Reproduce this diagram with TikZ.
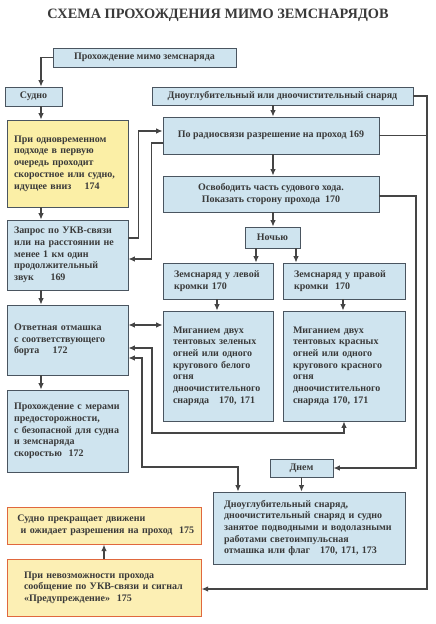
\documentclass[tikz,border=0pt]{standalone}
\usepackage{fontspec}
\setmainfont{Liberation Serif}
\usetikzlibrary{arrows.meta}
\definecolor{bfill}{HTML}{CFE4EF}
\definecolor{bline}{HTML}{4A5560}
\definecolor{yfill}{HTML}{FBEFA6}
\definecolor{ofill}{HTML}{FCEFB4}
\definecolor{oline}{HTML}{E0683E}
\definecolor{ink}{HTML}{3A3A3A}
\definecolor{wire}{HTML}{454545}
\tikzset{
  bx/.style={draw=bline, line width=0.8pt, fill=bfill, rectangle, inner ysep=0pt, inner xsep=6pt,
    font=\fontsize{10}{11.7}\selectfont\bfseries, text=ink},
  yb/.style={bx, fill=yfill},
  ob/.style={bx, fill=ofill, draw=oline, line width=1pt},
  wr/.style={draw=wire, line width=1.2pt},
  arr/.style={wr, -{Latex[length=6.5pt,width=5.5pt]}},
  darr/.style={wr, {Latex[length=6.5pt,width=5.5pt]}-{Latex[length=6.5pt,width=5.5pt]}},
}
\begin{document}
\begin{tikzpicture}[x=1pt,y=-1pt]
\useasboundingbox (0,0) rectangle (436,624);
\fill[white] (0,0) rectangle (436,624);
\node[text=ink, font=\fontsize{14.3}{16}\selectfont\bfseries] (title) at (218,15) {СХЕМА ПРОХОЖДЕНИЯ МИМО ЗЕМСНАРЯДОВ};

% coordinates for vertical lines
\coordinate (spine) at (41,0);
\coordinate (cmid) at (273,0);
\coordinate (cz1) at (256,0);
\coordinate (cz2) at (296,0);
\coordinate (cl) at (217,0);
\coordinate (cr) at (343,0);
\coordinate (cdb) at (238,0);
\coordinate (outer) at (427,0);
\coordinate (inner) at (416,0);
\coordinate (k1) at (152,433);
\coordinate (k2) at (142,467);

% boxes
\node[bx, minimum width=183pt, minimum height=19pt] (top) at (144.5,57.5) {Прохождение мимо земснаряда};
\node[bx, minimum width=57pt, minimum height=19pt] (sudno) at (33.5,96.5) {Судно};
\node[bx, minimum width=261pt, minimum height=18pt] (dnoug) at (282.5,96) {Дноуглубительный или дноочистительный снаряд};

\node[yb, text width=107pt, inner xsep=7pt, minimum height=87pt, align=left] (yel) at (67.5,163.5)
 {\mbox{При одновременном}\\\mbox{подходе в первую}\\\mbox{очередь проходит}\\\mbox{скоростное или судно,}\\\mbox{идущее вниз\quad\ 174}};
\node[bx, text width=107pt, inner xsep=7pt, minimum height=70pt, align=left] (zapros) at (67.5,255)
 {\mbox{Запрос по УКВ-связи}\\\mbox{или на расстоянии не}\\\mbox{менее 1 км один}\\\mbox{продолжительный}\\\mbox{звук\quad\ \ 169}};
\node[bx, text width=107pt, inner xsep=7pt, minimum height=70pt, align=left] (otv) at (67.5,340)
 {\mbox{Ответная отмашка}\\\mbox{с соответствующего}\\\mbox{борта\quad\ 172}};
\node[bx, text width=107pt, inner xsep=7pt, minimum height=82pt, align=left] (proh) at (67.5,431)
 {\mbox{Прохождение с мерами}\\\mbox{предосторожности,}\\\mbox{с безопасной для судна}\\\mbox{и земснаряда}\\\mbox{скоростью\ \ 172}};

\node[bx, minimum width=216pt, minimum height=37pt] (radio) at (271,135.5) {По радиосвязи разрешение на проход 169};
\node[bx, minimum width=216pt, minimum height=36pt, align=center] (osv) at (271,194)
 {Освободить часть судового хода.\\Показать сторону прохода\ \ 170};
\node[bx, minimum width=55pt, minimum height=21pt] (noch) at (272.5,237.5) {Ночью};

\node[bx, text width=88pt, inner xsep=11pt, minimum height=36pt, align=left] (zl) at (218,281)
 {\mbox{Земснаряд у левой}\\\mbox{кромки 170}};
\node[bx, text width=100pt, inner xsep=11pt, minimum height=36pt, align=left] (zr) at (344,281)
 {\mbox{Земснаряд у правой}\\\mbox{кромки\ \ 170}};
\node[bx, text width=90pt, inner xsep=10pt, minimum height=110pt, align=left] (ml) at (218,366)
 {\mbox{Миганием двух}\\\mbox{тентовых зеленых}\\\mbox{огней или одного}\\\mbox{кругового белого}\\\mbox{огня}\\\mbox{дноочистительного}\\\mbox{снаряда\ \ \ 170, 171}};
\node[bx, text width=102pt, inner xsep=10pt, minimum height=110pt, align=left] (mr) at (344,366)
 {\mbox{Миганием двух}\\\mbox{тентовых красных}\\\mbox{огней или одного}\\\mbox{кругового красного}\\\mbox{огня}\\\mbox{дноочистительного}\\\mbox{снаряда 170, 171}};

\node[bx, minimum width=63pt, minimum height=18pt] (dnem) at (301.5,468) {Днем};
\node[bx, text width=170pt, inner xsep=11pt, minimum height=72pt, align=left] (dbig) at (309,528)
 {\mbox{Дноуглубительный снаряд,}\\\mbox{дноочистительный снаряд и судно}\\\mbox{занятое подводными и водолазными}\\\mbox{работами светоимпульсная}\\\mbox{отмашка или флаг\ \ \ 170, 171, 173}};

\node[ob, text width=180pt, inner xsep=7pt, minimum height=37pt, align=left] (stop) at (104,525.5)
 {\mbox{\ Судно прекращает движени}\\\mbox{\ \ и ожидает разрешения на проход\ \ 175}};
\node[ob, text width=172pt, inner xsep=11pt, minimum height=57pt, align=left] (warn) at (104,587.5)
 {\mbox{\hspace*{6pt}При невозможности прохода}\\\mbox{\hspace*{6pt}сообщение по УКВ-связи и сигнал}\\\mbox{\hspace*{6pt}«Предупреждение»\ \ 175}};

% connectors
\draw[arr] (top.west) -| (sudno.north -| spine);
\draw[arr] (sudno.south -| spine) -- (yel.north -| spine);
\draw[arr] (yel.south -| spine) -- (zapros.north -| spine);
\draw[arr] (zapros.south -| spine) -- (otv.north -| spine);
\draw[arr] (otv.south -| spine) -- (proh.north -| spine);

\draw[arr] ([yshift=17pt]zapros.east) -- ++(10,0) |- ([yshift=4.5pt]radio.west);
\draw[arr] ([yshift=-7.5pt]radio.west) -- ++(-11,0) |- ([yshift=-4pt]zapros.east);

\draw[arr] (dnoug.south -| cmid) -- (radio.north -| cmid);
\draw[arr] (radio.south -| cmid) -- (osv.north -| cmid);
\draw[arr] (osv.south -| cmid) -- (noch.north -| cmid);
\draw[arr] (noch.south -| cz1) -- (zl.north -| cz1);
\draw[arr] (noch.south -| cz2) -- (zr.north -| cz2);
\draw[arr] (zl.south -| cl) -- (ml.north -| cl);
\draw[arr] (zr.south -| cr) -- (mr.north -| cr);

\draw[darr] ([yshift=15pt]otv.east) -- ([yshift=15pt]otv.east -| ml.west);
\draw[darr] ([yshift=-8pt]otv.east) -| (k1) -| (mr.south);
\draw[darr] ([yshift=-18pt]otv.east) -| (k2) -| (dbig.north -| cdb);

\draw[arr] (dnem.south) -- (dbig.north -| dnem.south);
\draw[arr] ([yshift=-2pt]osv.east) -| (inner |- dnem.east) -- (dnem.east);
\draw[wr] (dnoug.east) -| (outer |- radio.east);
\draw[wr] (radio.east) -- (outer |- radio.east);
\draw[arr] (outer |- radio.east) |- ([yshift=-1.5pt]warn.east);
\draw[arr] (warn.north) -- (stop.south);
\end{tikzpicture}
\end{document}
